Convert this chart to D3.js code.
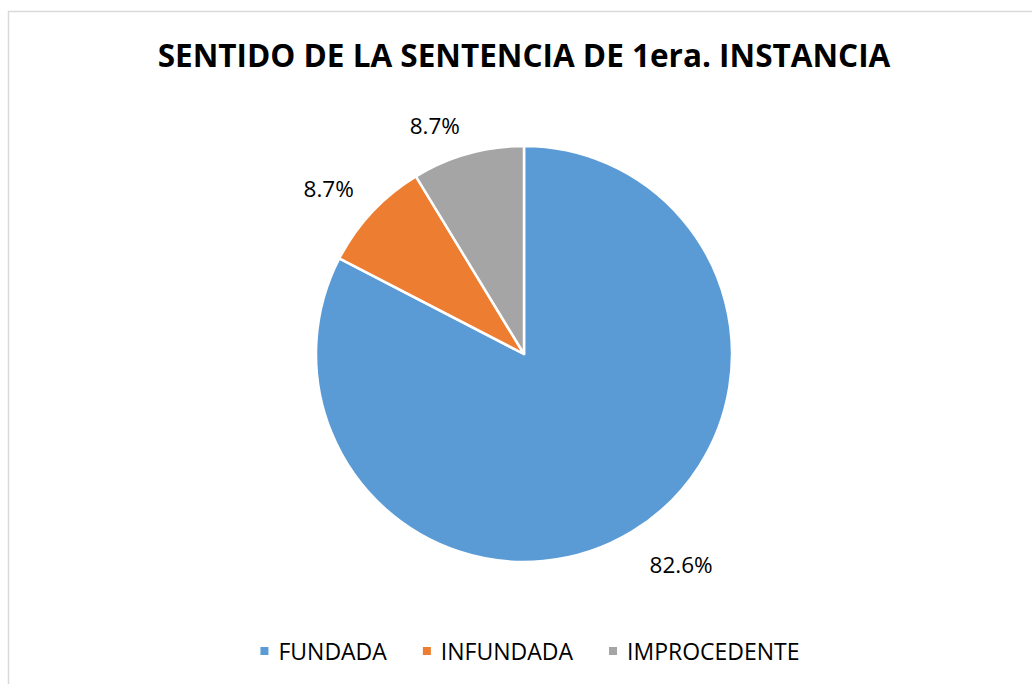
<!DOCTYPE html>
<html lang="es">
<head>
<meta charset="utf-8">
<title>Sentido de la sentencia</title>
<script src="https://cdn.jsdelivr.net/npm/d3@7"></script>
<style>
  body { margin: 0; background: #fff; }
  text { font-family: "Open Sans", "Noto Sans", sans-serif; fill: #000; }
</style>
</head>
<body>
<div id="chart"></div>
<script>
// data
var categories = ["FUNDADA", "INFUNDADA", "IMPROCEDENTE"];
var values = [82.6, 8.7, 8.7];
var colors = ["#5b9bd5", "#ed7d31", "#a5a5a5"];
var title = "SENTIDO DE LA SENTENCIA DE 1era. INSTANCIA";

var W = 1032, H = 684;
var cx = 524, cy = 354, R = 208;

var svg = d3.select("#chart").append("svg")
    .attr("width", W).attr("height", H);

// outer frame (runs off right and bottom edges)
svg.append("rect")
    .attr("x", 8.5).attr("y", 11.5)
    .attr("width", W + 20).attr("height", H + 20)
    .attr("fill", "#fff").attr("stroke", "#d9d9d9").attr("stroke-width", 1.5);

svg.append("text")
    .attr("x", cx).attr("y", 67)
    .attr("text-anchor", "middle")
    .style("font-weight", "bold").style("font-size", "31.5px")
    .text(title);

var data = categories.map(function (c, i) { return { name: c, value: values[i], color: colors[i] }; });

var pie = d3.pie().sort(null).value(function (d) { return d.value; });
var arc = d3.arc().innerRadius(0).outerRadius(R);
var arcs = pie(data);

var g = svg.append("g").attr("transform", "translate(" + cx + "," + cy + ")");
g.selectAll("path").data(arcs).enter().append("path")
    .attr("d", arc)
    .attr("fill", function (d) { return d.data.color; })
    .attr("stroke", "#fff").attr("stroke-width", 2.5)
    .attr("stroke-linejoin", "round");

// labels outside end
var lab = g.selectAll("text.lab").data(arcs).enter().append("text")
    .attr("class", "lab")
    .style("font-size", "22.5px")
    .text(function (d) { return d.data.value.toFixed(1) + "%"; });
lab.each(function (d) {
    var a = (d.startAngle + d.endAngle) / 2;
    var r = R + 16;
    var px = Math.sin(a) * r, py = -Math.cos(a) * r;
    var w = this.getComputedTextLength();
    var sx = Math.sin(a), sy = -Math.cos(a);
    var x = px + (sx >= 0 ? 6 : -w - 2) + sx * 6;
    var y = py + (sy >= 0 ? 28 : -4);
    d3.select(this).attr("x", x).attr("y", y);
});

// legend
var leg = svg.append("g");
var items = leg.selectAll("g").data(data).enter().append("g");
items.append("rect")
    .attr("width", 8).attr("height", 8).attr("y", -5)
    .attr("fill", function (d) { return d.color; });
items.append("text")
    .attr("x", 18).attr("y", 0).attr("dy", "0.35em")
    .style("font-size", "23px")
    .text(function (d) { return d.name; });
var xx = 0;
items.each(function () {
    var w = d3.select(this).select("text").node().getComputedTextLength() + 18;
    d3.select(this).attr("transform", "translate(" + xx + ",0)");
    xx += w + 36;
});
xx -= 36;
leg.attr("transform", "translate(" + (530 - xx / 2) + ",652)");
</script>
</body>
</html>
